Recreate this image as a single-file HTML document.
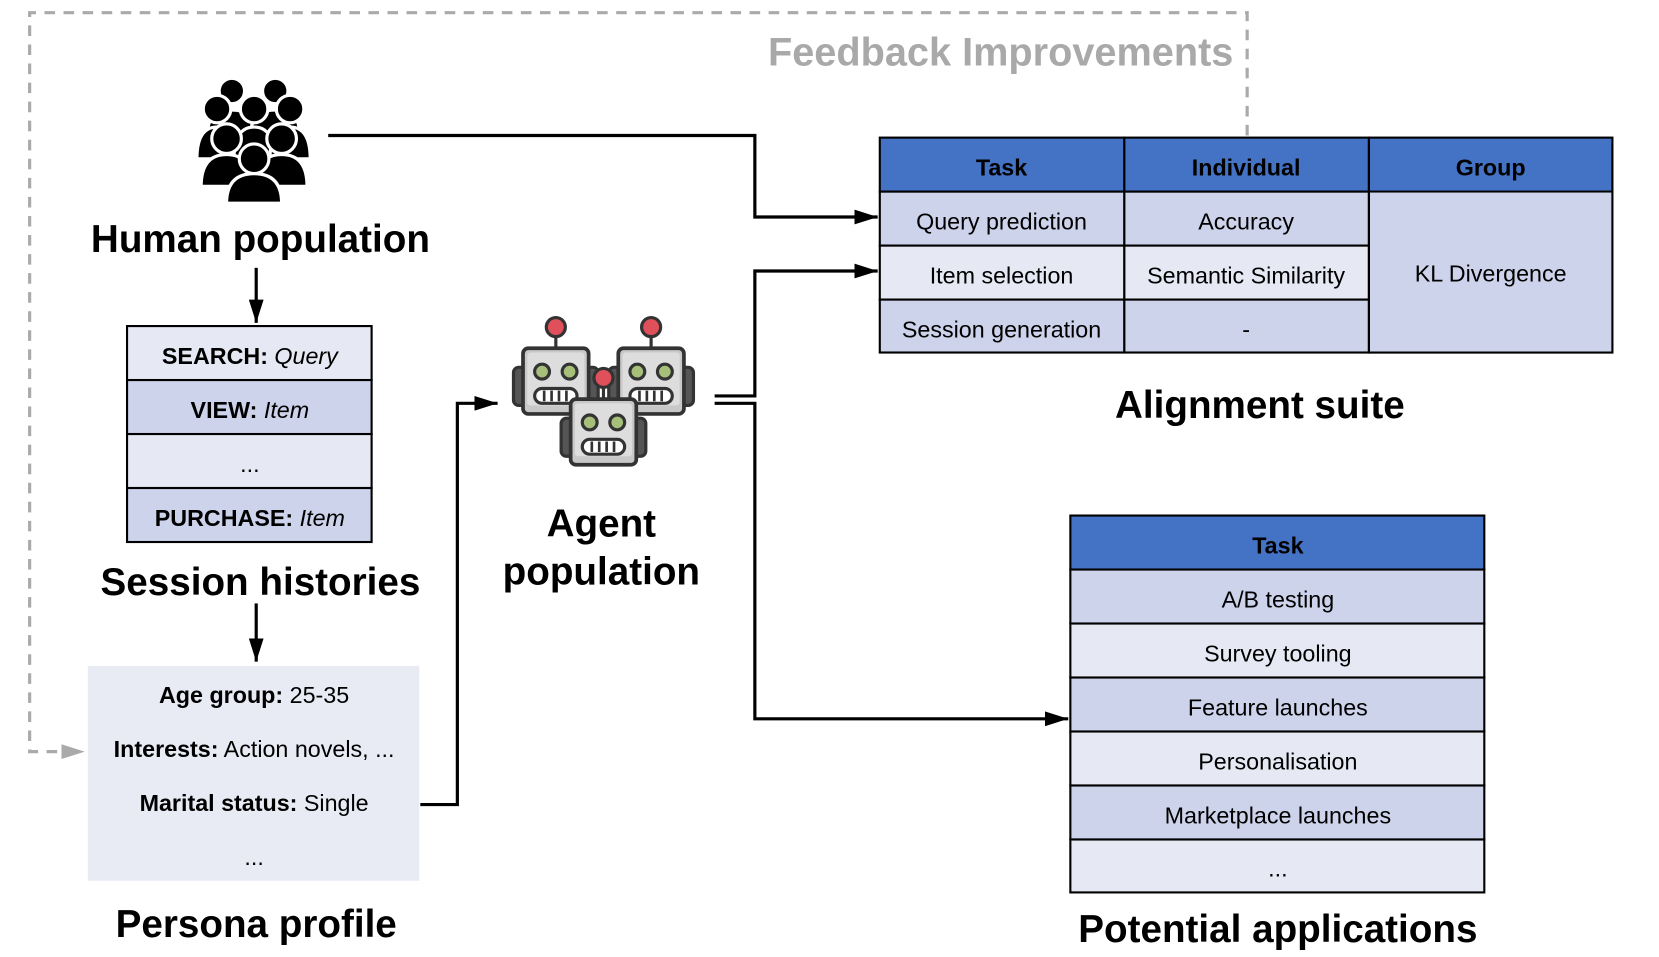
<!DOCTYPE html>
<html><head><meta charset="utf-8"><style>
html,body{margin:0;padding:0;background:#fff;}
svg{display:block;}
text{font-family:"Liberation Sans",Arial,sans-serif;}
</style></head><body>
<svg width="1659" height="957" viewBox="0 0 1567 904" preserveAspectRatio="none" xmlns="http://www.w3.org/2000/svg">
<defs>
<marker id="a" viewBox="0 0 10 10" refX="10" refY="5" markerWidth="22" markerHeight="14" orient="auto" markerUnits="userSpaceOnUse" preserveAspectRatio="none"><path d="M0,0 L10,5 L0,10 Z" fill="#000"/></marker>
<marker id="ag" viewBox="0 0 10 10" refX="10" refY="5" markerWidth="22" markerHeight="14" orient="auto" markerUnits="userSpaceOnUse" preserveAspectRatio="none"><path d="M0,0 L10,5 L0,10 Z" fill="#aaa"/></marker>
<g id="robot">
<rect x="-40" y="-14" width="14" height="36" rx="5" fill="#555" stroke="#333" stroke-width="3"/>
<rect x="26" y="-14" width="14" height="36" rx="5" fill="#555" stroke="#333" stroke-width="3"/>
<line x1="0" y1="-32" x2="0" y2="-50" stroke="#333" stroke-width="3"/>
<circle cx="0" cy="-52" r="9" fill="#e0505a" stroke="#333" stroke-width="3"/>
<rect x="-31" y="-32" width="62" height="62" rx="5" fill="#c8c8c8" stroke="#333" stroke-width="3.5"/>
<rect x="-27" y="-28" width="54" height="50" rx="3" fill="#ddd"/>
<circle cx="-13" cy="-10" r="7" fill="#a6c07a" stroke="#333" stroke-width="3"/>
<circle cx="13" cy="-10" r="7" fill="#a6c07a" stroke="#333" stroke-width="3"/>
<rect x="-20" y="6" width="40" height="14" rx="7" fill="#fff" stroke="#333" stroke-width="3"/>
<path d="M-11,8 V18 M-4,8 V18 M3,8 V18 M10,8 V18" stroke="#333" stroke-width="2.5"/>
</g>
</defs>

<path d="M1178,128 V12 H28 V710 H80" fill="none" stroke="#aaa" stroke-width="3" stroke-dasharray="10,8" marker-end="url(#ag)"/>
<text x="1165" y="62" text-anchor="end" font-size="37.5" font-weight="bold" fill="#a9a9a9">Feedback Improvements</text>

<g fill="#000" stroke="#fff" stroke-width="3">
<circle cx="219" cy="86" r="12"/><circle cx="260" cy="86" r="12"/>
<path d="M196,126 q0,-22 23,-22 q23,0 23,22 z"/><path d="M237,126 q0,-22 23,-22 q23,0 23,22 z"/>
<circle cx="205" cy="103" r="13"/><circle cx="240" cy="103" r="13"/><circle cx="274" cy="103" r="13"/>
<path d="M186,150 q0,-30 19,-30 q19,0 19,30 z"/><path d="M221,150 q0,-30 19,-30 q19,0 19,30 z"/><path d="M255,150 q0,-30 19,-30 q19,0 19,30 z"/>
<circle cx="214" cy="131" r="14"/><circle cx="266" cy="131" r="14"/>
<path d="M190,176 q0,-30 24,-30 q24,0 24,30 z"/><path d="M242,176 q0,-30 24,-30 q24,0 24,30 z"/>
<circle cx="240" cy="150" r="14"/>
<path d="M214,192 q0,-28 26,-28 q26,0 26,28 z"/>
</g>
<text x="246" y="238" text-anchor="middle" font-size="36.5" font-weight="bold">Human population</text>
<line x1="242" y1="253" x2="242" y2="305" stroke="#000" stroke-width="3" marker-end="url(#a)"/>

<g stroke="#000" stroke-width="2">
<rect x="120" y="308" width="231" height="51" fill="#e6e8f3"/>
<rect x="120" y="359" width="231" height="51" fill="#ccd3ea"/>
<rect x="120" y="410" width="231" height="51" fill="#e6e8f3"/>
<rect x="120" y="461" width="231" height="51" fill="#ccd3ea"/>
</g>
<g font-size="22" text-anchor="middle">
<text x="236" y="344"><tspan font-weight="bold">SEARCH:</tspan> <tspan font-style="italic">Query</tspan></text>
<text x="236" y="395"><tspan font-weight="bold">VIEW:</tspan> <tspan font-style="italic">Item</tspan></text>
<text x="236" y="446">...</text>
<text x="236" y="497"><tspan font-weight="bold">PURCHASE:</tspan> <tspan font-style="italic">Item</tspan></text>
</g>
<text x="246" y="562" text-anchor="middle" font-size="36.5" font-weight="bold">Session histories</text>
<line x1="242" y1="570" x2="242" y2="625" stroke="#000" stroke-width="3" marker-end="url(#a)"/>

<rect x="83" y="629" width="313" height="203" fill="#e8eaf4"/>
<g font-size="22" text-anchor="middle">
<text x="240" y="664"><tspan font-weight="bold">Age group:</tspan> 25-35</text>
<text x="240" y="715"><tspan font-weight="bold">Interests:</tspan> Action novels, ...</text>
<text x="240" y="766"><tspan font-weight="bold">Marital status:</tspan> Single</text>
<text x="240" y="817">...</text>
</g>
<text x="242" y="885" text-anchor="middle" font-size="36.5" font-weight="bold">Persona profile</text>

<path d="M397,760 H432 V381 H470" fill="none" stroke="#000" stroke-width="3" marker-end="url(#a)"/>
<path d="M310,128 H713 V205 H829" fill="none" stroke="#000" stroke-width="3" marker-end="url(#a)"/>
<path d="M675,374 H713 V256 H829" fill="none" stroke="#000" stroke-width="3" marker-end="url(#a)"/>
<path d="M675,381 H713 V679 H1009" fill="none" stroke="#000" stroke-width="3" marker-end="url(#a)"/>

<use href="#robot" x="525" y="361"/>
<use href="#robot" x="615" y="361"/>
<use href="#robot" x="570" y="409"/>
<text x="568" y="507" text-anchor="middle" font-size="36.5" font-weight="bold">Agent</text>
<text x="568" y="552" text-anchor="middle" font-size="36.5" font-weight="bold">population</text>

<g stroke="#000" stroke-width="2">
<rect x="831" y="130" width="231" height="51" fill="#4472c4"/>
<rect x="1062" y="130" width="231" height="51" fill="#4472c4"/>
<rect x="1293" y="130" width="230" height="51" fill="#4472c4"/>
<rect x="831" y="181" width="231" height="51" fill="#ccd3ea"/>
<rect x="1062" y="181" width="231" height="51" fill="#ccd3ea"/>
<rect x="831" y="232" width="231" height="51" fill="#e6e8f3"/>
<rect x="1062" y="232" width="231" height="51" fill="#e6e8f3"/>
<rect x="831" y="283" width="231" height="50" fill="#ccd3ea"/>
<rect x="1062" y="283" width="231" height="50" fill="#ccd3ea"/>
</g>
<rect x="1294" y="182" width="229" height="151" fill="#ccd3ea"/>
<path d="M1293,181 V333 H1523 V181" fill="none" stroke="#000" stroke-width="2"/>
<g font-size="22" text-anchor="middle">
<text x="946" y="166" font-weight="bold">Task</text>
<text x="1177" y="166" font-weight="bold">Individual</text>
<text x="1408" y="166" font-weight="bold">Group</text>
<text x="946" y="217">Query prediction</text>
<text x="1177" y="217">Accuracy</text>
<text x="946" y="268">Item selection</text>
<text x="1177" y="268">Semantic Similarity</text>
<text x="946" y="319">Session generation</text>
<text x="1177" y="319">-</text>
<text x="1408" y="266">KL Divergence</text>
</g>
<text x="1190" y="395" text-anchor="middle" font-size="36.5" font-weight="bold">Alignment suite</text>

<g stroke="#000" stroke-width="2">
<rect x="1011" y="487" width="391" height="51" fill="#4472c4"/>
<rect x="1011" y="538" width="391" height="51" fill="#ccd3ea"/>
<rect x="1011" y="589" width="391" height="51" fill="#e6e8f3"/>
<rect x="1011" y="640" width="391" height="51" fill="#ccd3ea"/>
<rect x="1011" y="691" width="391" height="51" fill="#e6e8f3"/>
<rect x="1011" y="742" width="391" height="51" fill="#ccd3ea"/>
<rect x="1011" y="793" width="391" height="50" fill="#e6e8f3"/>
</g>
<g font-size="22" text-anchor="middle">
<text x="1207" y="523" font-weight="bold">Task</text>
<text x="1207" y="574">A/B testing</text>
<text x="1207" y="625">Survey tooling</text>
<text x="1207" y="676">Feature launches</text>
<text x="1207" y="727">Personalisation</text>
<text x="1207" y="778">Marketplace launches</text>
<text x="1207" y="828">...</text>
</g>
<text x="1207" y="890" text-anchor="middle" font-size="36.5" font-weight="bold">Potential applications</text>
</svg>
</body></html>
